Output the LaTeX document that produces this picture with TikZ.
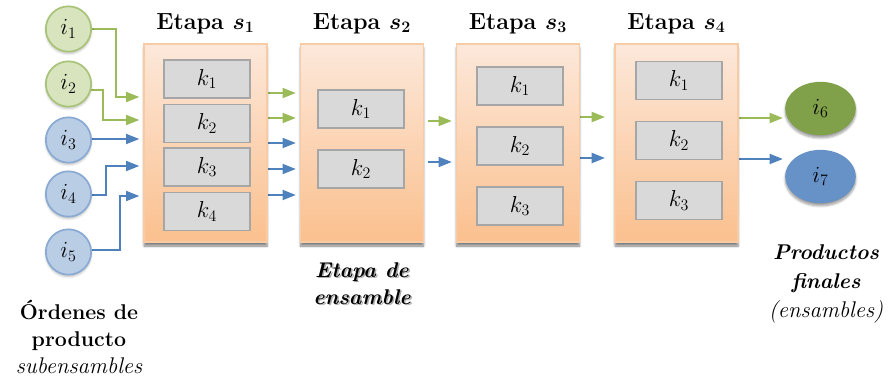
\documentclass[tikz,border=0pt]{standalone}
\usetikzlibrary{arrows.meta,shapes.geometric,shadows.blur}

\definecolor{arrG}{HTML}{9BBB59}
\definecolor{arrB}{HTML}{4F81BD}
\definecolor{inGfill}{HTML}{D7E4BD}
\definecolor{inGedge}{HTML}{A9C47A}
\definecolor{inBfill}{HTML}{B9CDE5}
\definecolor{inBedge}{HTML}{8AAAD3}
\definecolor{outG}{HTML}{80A04A}
\definecolor{outB}{HTML}{6692C8}
\definecolor{stTop}{HTML}{FCE8DA}
\definecolor{stBot}{HTML}{FBC08E}
\definecolor{stEdge}{HTML}{F9CBA5}
\definecolor{kFill}{HTML}{D9D9D9}
\definecolor{kEdge}{HTML}{A6A6A6}

\pgfdeclarelayer{background}
\pgfsetlayers{background,main}

\tikzset{
  stagebox/.style={draw=stEdge, line width=1pt, top color=stTop, bottom color=stBot,
    minimum width=92.25pt, minimum height=148.5pt, inner sep=0pt,
    blur shadow={shadow xshift=0pt, shadow yshift=-3pt, shadow blur steps=6, shadow opacity=50}},
  kbox/.style={draw=kEdge, fill=kFill, line width=0.8pt,
    minimum width=64.5pt, minimum height=28.5pt, inner sep=0pt,
    font=\fontsize{16.5}{18}\selectfont},
  ingreen/.style={circle, draw=inGedge, fill=inGfill, line width=1.3pt,
    minimum size=34pt, inner sep=0pt, font=\fontsize{17}{18}\selectfont,
    blur shadow={shadow xshift=0pt, shadow yshift=-1.5pt, shadow blur steps=5, shadow opacity=25}},
  inblue/.style={ingreen, draw=inBedge, fill=inBfill},
  outnode/.style={ellipse, minimum width=53pt, minimum height=40pt, inner sep=0pt,
    font=\fontsize{17}{18}\selectfont,
    blur shadow={shadow xshift=0pt, shadow yshift=-2pt, shadow blur steps=6}},
  stitle/.style={anchor=base, font=\fontsize{17.5}{21}\selectfont\bfseries\boldmath},
  ga/.style={draw=arrG, line width=1.5pt, -{Triangle[length=10pt,width=7.5pt]}, shorten >=3pt},
  ba/.style={ga, draw=arrB},
  caption/.style={align=center, anchor=base, font=\fontsize{16}{20}\selectfont}
}

\begin{document}
\begin{tikzpicture}[x=0.75pt,y=-0.75pt]
\useasboundingbox (0,0) rectangle (888,383);

% input orders (subassemblies)
\node[ingreen] (i1) at (68.5,29)  {$i_1$};
\node[ingreen] (i2) at (68.5,84)  {$i_2$};
\node[inblue]  (i3) at (68.5,140) {$i_3$};
\node[inblue]  (i4) at (68.5,194) {$i_4$};
\node[inblue]  (i5) at (68.5,252) {$i_5$};

% stages
\node[stagebox] (s1) at (205.5,143) {};
\node[stagebox] (s2) at (362,143) {};
\node[stagebox] (s3) at (518,143) {};
\node[stagebox] (s4) at (676.5,143) {};

\node[stitle] (t1) at (205.5,29) {Etapa $s_1$};
\node[stitle] (t2) at (362,29)   {Etapa $s_2$};
\node[stitle] (t3) at (518,29)   {Etapa $s_3$};
\node[stitle] (t4) at (676.5,29) {Etapa $s_4$};

% machines inside each stage
\node[kbox] (s1k1) at (207,79)    {$k_1$};
\node[kbox] (s1k2) at (207,123.5) {$k_2$};
\node[kbox] (s1k3) at (207,167)   {$k_3$};
\node[kbox] (s1k4) at (207,211.5) {$k_4$};

\node[kbox] (s2k1) at (361,109) {$k_1$};
\node[kbox] (s2k2) at (361,169) {$k_2$};

\node[kbox] (s3k1) at (520,86)  {$k_1$};
\node[kbox] (s3k2) at (520,146) {$k_2$};
\node[kbox] (s3k3) at (520,206) {$k_3$};

\node[kbox] (s4k1) at (679,80.5)  {$k_1$};
\node[kbox] (s4k2) at (679,140.5) {$k_2$};
\node[kbox] (s4k3) at (679,200.5) {$k_3$};

% final products
\node[outnode, fill=outG] (i6) at (820.5,108.5) {$i_6$};
\node[outnode, fill=outB] (i7) at (820.5,176.5) {$i_7$};

% flows
\begin{pgfonlayer}{background}
  \draw[ga] (i1.center) -| (116,97) -- (s1.west |- 0,97);
  \draw[ga] (i2.center |- 0,90) -| (103,120) -- (s1.west |- 0,120);
  \draw[ba] (i3.center |- 0,139) -- (s1.west |- 0,139);
  \draw[ba] (i4.center |- 0,195) -| (106,166) -- (s1.west |- 0,166);
  \draw[ba] (i5.center |- 0,250) -| (120,196) -- (s1.west |- 0,196);

  \foreach \yy/\st in {93/ga,118/ga,143/ba,169/ba,195/ba}
    \draw[\st] (s1.east |- 0,\yy) -- (s2.west |- 0,\yy);

  \draw[ga, shorten <=3pt] (s2.east |- 0,121) -- (s3.west |- 0,121);
  \draw[ba, shorten <=3pt] (s2.east |- 0,162) -- (s3.west |- 0,162);

  \draw[ga, shorten >=7pt] (s3.east |- 0,117) -- (s4.west |- 0,117);
  \draw[ba, shorten >=7pt] (s3.east |- 0,158) -- (s4.west |- 0,158);

  \draw[ga, shorten >=1.5pt] (s4.east |- 0,118) -- (i6.west |- 0,118);
  \draw[ba, shorten >=1.5pt] (s4.east |- 0,159) -- (i7.west |- 0,159);
\end{pgfonlayer}

% captions (anchored at the baseline of their last line)
\node[caption] (ord) at (79,373)
  {{\bfseries Órdenes de}\\{\bfseries producto}\\{\fontsize{17}{20}\selectfont\itshape subensambles}};

\node[caption, text=black!55, opacity=0.6] (ensshadow) at (363.5,305.5)
  {{\bfseries\itshape Etapa de}\\{\bfseries\itshape ensamble}};
\node[caption] (ens) at (362,304)
  {{\bfseries\itshape Etapa de}\\{\bfseries\itshape ensamble}};

\node[caption, font=\fontsize{16}{21.5}\selectfont] (prod) at (826,317)
  {{\bfseries\itshape Productos}\\{\bfseries\itshape finales}\\{\fontsize{17}{20}\selectfont\itshape (ensambles)}};
\end{tikzpicture}
\end{document}
